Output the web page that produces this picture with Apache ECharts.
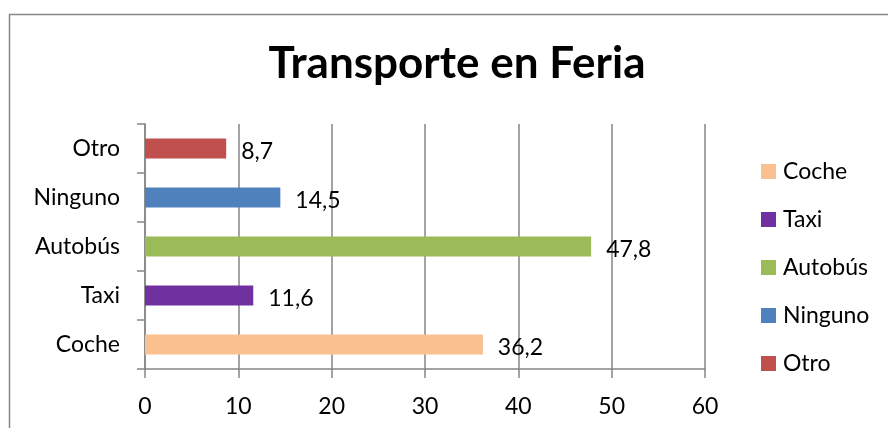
<!DOCTYPE html>
<html>
<head>
<meta charset="utf-8">
<script src="https://cdn.jsdelivr.net/npm/echarts@6/dist/echarts.min.js"></script>
<style>
  html, body { margin: 0; padding: 0; background: #fff; }
  #chart { width: 888px; height: 428px; }
</style>
</head>
<body>
<div id="chart"></div>
<script>
// categories, bottom to top
var categories = ['Coche', 'Taxi', 'Autobús', 'Ninguno', 'Otro'];
var values = [36.2, 11.6, 47.8, 14.5, 8.7];
var colors = ['#FAC090', '#7030A0', '#9BBB59', '#4F81BD', '#C0504D'];
var xTicks = [0, 10, 20, 30, 40, 50, 60];

var font = 'Lato, "Open Sans", sans-serif';
var grey = '#868686';

var chart = echarts.init(document.getElementById('chart'));

// one series per category so the legend lists each one
var series = categories.map(function (name, i) {
    var data = categories.map(function (c, j) { return j === i ? values[i] : null; });
    return {
        name: name,
        type: 'bar',
        stack: 'all',
        barWidth: 20,
        data: data,
        itemStyle: { color: colors[i] },
        label: {
            show: true,
            position: 'right',
            distance: 15,
            offset: [0, 3],
            color: '#000',
            fontFamily: font,
            fontSize: 23,
            formatter: function (p) { return String(p.value).replace('.', ','); }
        }
    };
});

var option = {
    animation: false,
    title: {
        text: 'Transporte en Feria',
        left: 452,
        textAlign: 'center',
        top: 37,
        textStyle: { fontFamily: font, fontSize: 44, fontWeight: 'bold', color: '#000' }
    },
    legend: {
        orient: 'vertical',
        left: 761,
        top: 160,
        padding: 0,
        itemWidth: 15,
        itemHeight: 15,
        itemGap: 25,
        icon: 'rect',
        textStyle: { fontFamily: font, fontSize: 23, color: '#000', padding: [0, 0, 0, 2] },
        data: categories
    },
    grid: { left: 145, right: 183, top: 124, bottom: 59 },
    xAxis: {
        type: 'value',
        min: xTicks[0],
        max: xTicks[xTicks.length - 1],
        interval: 10,
        axisLine: { show: true, lineStyle: { color: grey, width: 1.5 } },
        axisTick: { show: true, length: 9, lineStyle: { color: grey, width: 1.5 } },
        splitLine: { show: true, lineStyle: { color: grey, width: 1.5 } },
        axisLabel: { fontFamily: font, fontSize: 23, color: '#000', margin: 26 }
    },
    yAxis: {
        type: 'category',
        data: categories,
        axisLine: { show: true, lineStyle: { color: grey, width: 1.5 } },
        axisTick: { show: true, length: 8, interval: 0, lineStyle: { color: grey, width: 1.5 } },
        axisLabel: { fontFamily: font, fontSize: 23, color: '#000', margin: 25 }
    },
    graphic: [{
        type: 'rect',
        left: 7,
        top: 12,
        shape: { width: 1000, height: 600 },
        style: { fill: 'none', stroke: grey, lineWidth: 1.5 },
        silent: true
    }],
    series: series
};

chart.setOption(option);
</script>
</body>
</html>
